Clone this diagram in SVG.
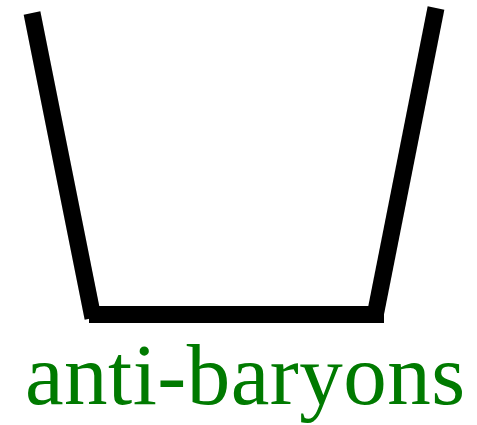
<svg xmlns="http://www.w3.org/2000/svg" width="477" height="425" viewBox="0 0 477 425">
<style>
.bar{stroke:#000;stroke-width:17;fill:none;stroke-linecap:butt}
.lbl{font-family:"Liberation Serif","DejaVu Serif",serif;font-size:87px;fill:#007a00}
</style>
<rect width="477" height="425" fill="#fff"/>
<g id="connectors">
<line class="bar" x1="32" y1="13" x2="93" y2="318"/>
<line class="bar" x1="436" y1="8" x2="375" y2="316"/>
<line class="bar" x1="89" y1="314.5" x2="384" y2="314.5"/>
</g>
<g id="label">
<text class="lbl" x="25" y="404" textLength="440" lengthAdjust="spacing">anti-baryons</text>
</g>
</svg>
